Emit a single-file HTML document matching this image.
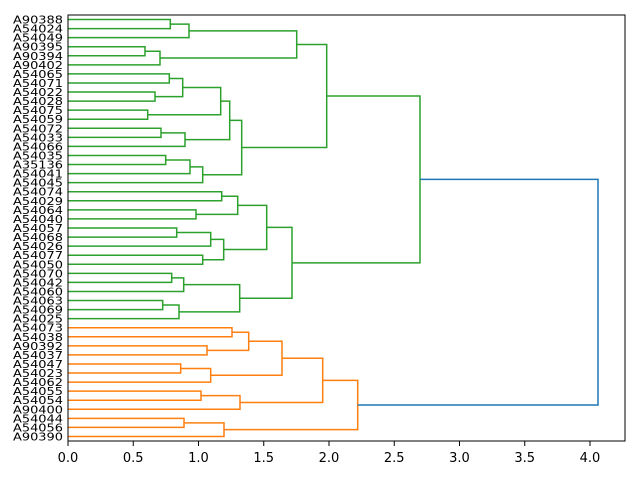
<!DOCTYPE html>
<html><head><meta charset="utf-8"><style>
html,body{margin:0;padding:0;background:#fff;}
svg{display:block;}
text{font-family:"DejaVu Sans","Liberation Sans",sans-serif;}
</style></head><body>
<svg id="s" width="640" height="480" xmlns="http://www.w3.org/2000/svg">
<rect x="0" y="0" width="640" height="480" fill="#fff"/>
<g id="lines" fill="none" stroke-width="1.5"></g>
<rect x="68" y="15" width="557" height="426" fill="none" stroke="#000" stroke-width="1"/>
<g id="labels" font-size="11" text-anchor="end" fill="#000"></g>
<g id="ticks" font-size="13" text-anchor="middle" fill="#000"></g>
</svg>
<script>
var names=["A90388","A54024","A54049","A90395","A90394","A90402","A54065","A54071","A54022","A54028","A54075","A54059","A54072","A54033","A54066","A54035","A35136","A54041","A54045","A54074","A54029","A54064","A54040","A54057","A54068","A54026","A54077","A54050","A54070","A54042","A54060","A54063","A54069","A54025","A54073","A54038","A90392","A54037","A54047","A54023","A54062","A54055","A54054","A90400","A54044","A54056","A90390"];
var NS="http://www.w3.org/2000/svg";
function yl(i){return 15+(5+10*i)*426/470;}
var lab=document.getElementById("labels");
names.forEach(function(n,i){var t=document.createElementNS(NS,"text");t.setAttribute("x",63);t.setAttribute("y",(yl(i)+4).toFixed(2));t.setAttribute("textLength","50");t.setAttribute("lengthAdjust","spacingAndGlyphs");t.textContent=n;lab.appendChild(t);});
var G1=[296.7,[189,[170.3,0,1],2],[160,[145,3,4],5]];
var G2=[241.7,[229.7,[220.7,[182.7,[169.3,6,7],[155,8,9]],[147.7,10,11]],[185,[161,12,13],14]],[202.7,[190,[165.7,15,16],17],18]];
var Ga=[326.7,G1,G2];
var G3=[266.7,[237.7,[221.7,19,20],[196,21,22]],[223.7,[210.7,[176.7,23,24],25],[202.7,26,27]]];
var G4=[239.7,[183.7,[171.7,28,29],30],[179,[162.7,31,32],33]];
var Gb=[292,G3,G4];
var G=[420,Ga,Gb];
var O=[357.7,[322.7,[282,[248.7,[232,34,35],[207,36,37]],[210.7,[180.7,38,39],40]],[240,[201,41,42],43]],[224,[184,44,45],46]];
var lines=document.getElementById("lines");
function draw(n,col){
 if(typeof n==="number") return [68,yl(n)];
 var a=draw(n[1],col),b=draw(n[2],col),x=n[0];
 var p=document.createElementNS(NS,"polyline");
 p.setAttribute("points",a[0]+","+a[1]+" "+x+","+a[1]+" "+x+","+b[1]+" "+b[0]+","+b[1]);
 p.setAttribute("stroke",col);lines.appendChild(p);
 return [x,(a[1]+b[1])/2];
}
var g=draw(G,"#2ca02c"),o=draw(O,"#ff7f0e");
var p=document.createElementNS(NS,"polyline");
p.setAttribute("points",g[0]+","+g[1]+" 598,"+g[1]+" 598,"+o[1]+" "+o[0]+","+o[1]);
p.setAttribute("stroke","#1f77b4");lines.appendChild(p);
var tk=document.getElementById("ticks");
for(var k=0;k<=8;k++){var x=68+k*0.5*130.5;
 var l=document.createElementNS(NS,"line");l.setAttribute("x1",x);l.setAttribute("x2",x);l.setAttribute("y1",441);l.setAttribute("y2",446);l.setAttribute("stroke","#000");tk.appendChild(l);
 var t=document.createElementNS(NS,"text");t.setAttribute("x",x);t.setAttribute("y",462);t.textContent=(k*0.5).toFixed(1);tk.appendChild(t);}
</script>
</body></html>
